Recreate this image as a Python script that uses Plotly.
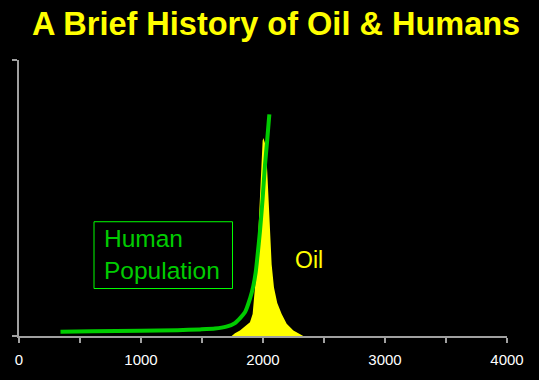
import plotly.graph_objects as go

# Data
pop_years = [340, 600, 1000, 1300, 1484, 1607, 1700, 1770, 1852, 1893, 1920, 1940, 1955, 1975, 1997, 2016, 2035, 2052]
pop_values = [0.15, 0.17, 0.19, 0.21, 0.24, 0.27, 0.34, 0.47, 0.86, 1.35, 1.80, 2.3, 2.9, 3.79, 4.98, 6.18, 7.13, 8.03]

oil_years = [1743, 1770, 1811, 1852, 1893, 1915, 1926, 1934, 1943, 1953, 1964, 1975, 1986, 1997, 2003,
             2022, 2035, 2044, 2057, 2071, 2090, 2117, 2153, 2194, 2249, 2303, 2330]
oil_values = [0.0, 0.1, 0.2, 0.35, 0.5, 0.8, 1.28, 1.76, 2.2, 2.95, 4.03, 4.98, 6.18, 7.07, 7.17,
              6.9, 5.94, 4.98, 3.55, 2.59, 1.76, 1.20, 0.80, 0.44, 0.20, 0.06, 0.0]

x_ticks = [0, 1000, 2000, 3000, 4000]

W, H = 539, 380
L, R, T, B = 19, 32, 60, 41
PW, PH = W - L - R, H - T - B


def px(xp):
    return (xp - L) / PW


def py(yp):
    return (H - B - yp) / PH


fig = go.Figure()
fig.add_trace(go.Scatter(
    x=oil_years, y=oil_values, mode="lines", line=dict(width=0, color="#FFFF00"),
    fill="tozeroy", fillcolor="#FFFF00", hoverinfo="skip", showlegend=False))
fig.add_trace(go.Scatter(
    x=pop_years, y=pop_values, mode="lines", line=dict(width=4, color="#00CC00", shape="spline", smoothing=0.6),
    showlegend=False))

axis_color = "#A0A0A0"
fig.update_xaxes(
    range=[0, 4000], tickvals=x_ticks, ticktext=[str(v) for v in x_ticks],
    showgrid=False, zeroline=False, showline=True, linecolor=axis_color, linewidth=2,
    ticks="outside", ticklen=5, tickcolor=axis_color, tickwidth=2, ticklabelstandoff=4,
    minor=dict(dtick=500, ticks="outside", ticklen=5, tickcolor=axis_color, tickwidth=2),
    tickfont=dict(family="Liberation Sans, Arial", size=15, color="white"),
)
fig.update_yaxes(
    range=[0, 10], tickvals=[0, 10], showticklabels=False,
    showgrid=False, zeroline=False, showline=True, linecolor=axis_color, linewidth=2,
    ticks="outside", ticklen=5, tickcolor=axis_color, tickwidth=2,
)

fig.add_annotation(
    text="<b>A Brief History of Oil &amp; Humans</b>", xref="paper", yref="paper",
    x=px(276), y=py(24), xanchor="center", yanchor="middle", showarrow=False,
    font=dict(family="Liberation Sans, Arial", size=32.5, color="#FFFF00"))

fig.add_shape(type="rect", xref="paper", yref="paper",
              x0=px(94), x1=px(232.5), y0=py(291), y1=py(223.5),
              line=dict(color="#00FF00", width=1))
fig.add_annotation(
    text="Human<br>Population", xref="paper", yref="paper",
    x=px(102), y=py(257), xanchor="left", yanchor="middle", align="left", showarrow=False,
    font=dict(family="Liberation Sans, Arial", size=24.5, color="#00CC00"))
fig.add_annotation(
    text="Oil", xref="paper", yref="paper",
    x=px(293), y=py(262), xanchor="left", yanchor="middle", showarrow=False,
    font=dict(family="Liberation Sans, Arial", size=23, color="#FFFF00"))

fig.update_layout(
    width=W, height=H, margin=dict(l=L, r=R, t=T, b=B),
    paper_bgcolor="black", plot_bgcolor="black",
)

fig.write_html("out.html")
